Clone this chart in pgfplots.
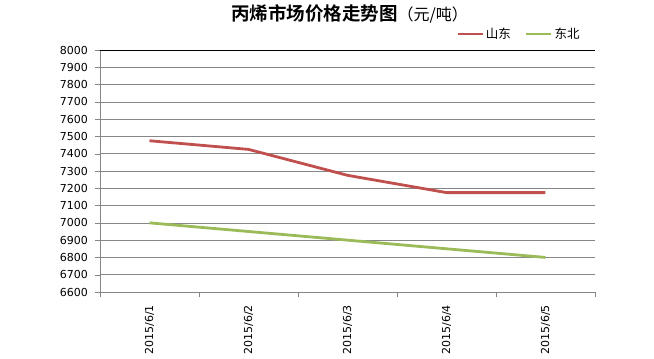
\documentclass[border=0pt]{standalone}
\usepackage{pgfplots}
\pgfplotsset{compat=1.18}
\usepackage{fontspec}
\setmainfont{DejaVu Sans}
\newfontfamily\cjk{Noto Sans CJK SC}[BoldFont={Noto Sans CJK SC Bold}]
\definecolor{sd}{HTML}{C0504D}
\definecolor{db}{HTML}{9BBB59}
\definecolor{axgray}{HTML}{868686}
\begin{document}
\begin{tikzpicture}
\begin{axis}[scale only axis,
  width=495pt, height=242pt,
  xmin=-0.5, xmax=4.5, ymin=6600, ymax=8000,
  ytick={6600,6700,...,8000},
  xtick={-0.5,0.5,1.5,2.5,3.5,4.5},
  x tick label as interval,
  xticklabels={2015/6/1,2015/6/2,2015/6/3,2015/6/4,2015/6/5},
  axis x line*=bottom, axis y line*=left,
  axis line style={draw=axgray,-},
  tick align=outside, major tick length=5pt,
  tick style={draw=axgray},
  ymajorgrids, grid style={draw=axgray, line width=0.6pt},
  /pgf/number format/assume math mode=true,
  /pgf/number format/1000 sep={},
  yticklabel style={font=\fontsize{11}{13}\selectfont, inner sep=0pt, xshift=-7pt},
  xticklabel style={font=\fontsize{11}{13}\selectfont, rotate=90, anchor=east, inner sep=0pt, xshift=-8pt, yshift=0pt},
  legend columns=2,
  legend style={at={(axis description cs:0.719,1.066)}, anchor=west, draw=none, fill=none,
    inner sep=0pt, font=\cjk\fontsize{12.5}{14}\selectfont,
    /tikz/every even column/.append style={column sep=12pt}},
  legend image code/.code={\draw[#1] (0pt,0pt) -- (25pt,0pt);},
  line join=round,
]
\addplot[sd, line width=2.8pt] coordinates {(0,7475) (1,7425) (2,7275) (3,7175) (4,7175)};
\addlegendentry{山东}
\addplot[db, line width=2.8pt] coordinates {(0,7000) (1,6950) (2,6900) (3,6850) (4,6800)};
\addlegendentry{东北}
\draw[black, line width=0.8pt] (axis cs:-0.5,8000) -- (axis cs:4.5,8000) -- (axis cs:4.5,6600);
\coordinate (O) at (axis cs:-0.5,6600);
\end{axis}
\pgfresetboundingbox
\useasboundingbox ([shift={(-100pt,-67pt)}]O) rectangle ([shift={(554pt,292pt)}]O);
\node[anchor=west, inner sep=0pt] at ([shift={(131pt,278pt)}]O) {{\cjk\bfseries\fontsize{18.5}{20}\selectfont 丙烯市场价格走势图}{\cjk\fontsize{16}{17}\selectfont （元/吨）}};
\end{tikzpicture}
\end{document}
